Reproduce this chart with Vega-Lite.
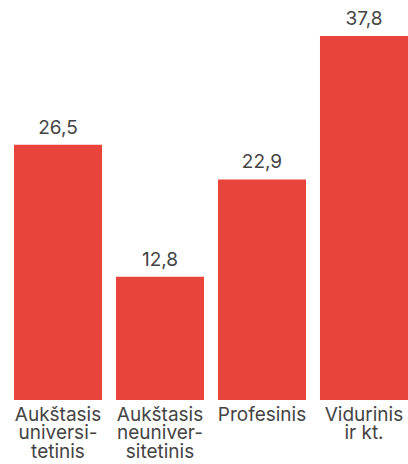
{
  "$schema": "https://vega.github.io/schema/vega-lite/v6.json",
  "width": 394,
  "height": 364,
  "autosize": "none",
  "padding": {"left": 14, "top": 36, "right": 0, "bottom": 64},
  "config": {
    "view": {"stroke": null},
    "font": "Inter",
    "locale": {"number": {"decimal": ",", "thousands": " ", "grouping": [3], "currency": ["", " €"]}}
  },
  "data": {
    "values": [
      {"cat": "Aukštasis|universi-|tetinis", "value": 26.5},
      {"cat": "Aukštasis|neuniver-|sitetinis", "value": 12.8},
      {"cat": "Profesinis", "value": 22.9},
      {"cat": "Vidurinis|ir kt.", "value": 37.8}
    ]
  },
  "encoding": {
    "x": {
      "field": "cat", "type": "nominal", "sort": null,
      "scale": {"paddingInner": 0.137, "paddingOuter": 0},
      "axis": {
        "title": null, "domain": false, "ticks": false, "labelAngle": 0,
        "labelExpr": "split(datum.value, '|')",
        "labelFontSize": 19, "labelColor": "#444444", "labelPadding": 5,
        "labelLineHeight": 18.5, "labelBaseline": "top", "labelFont": "Inter"
      }
    },
    "y": {
      "field": "value", "type": "quantitative",
      "scale": {"domain": [0, 37.8], "nice": false},
      "axis": null
    }
  },
  "layer": [
    {"mark": {"type": "bar", "color": "#e8443c"}},
    {
      "mark": {"type": "text", "dy": -7, "baseline": "bottom", "fontSize": 19, "color": "#444444", "font": "Inter"},
      "encoding": {"text": {"field": "value", "type": "quantitative", "format": ".1f"}}
    }
  ]
}
